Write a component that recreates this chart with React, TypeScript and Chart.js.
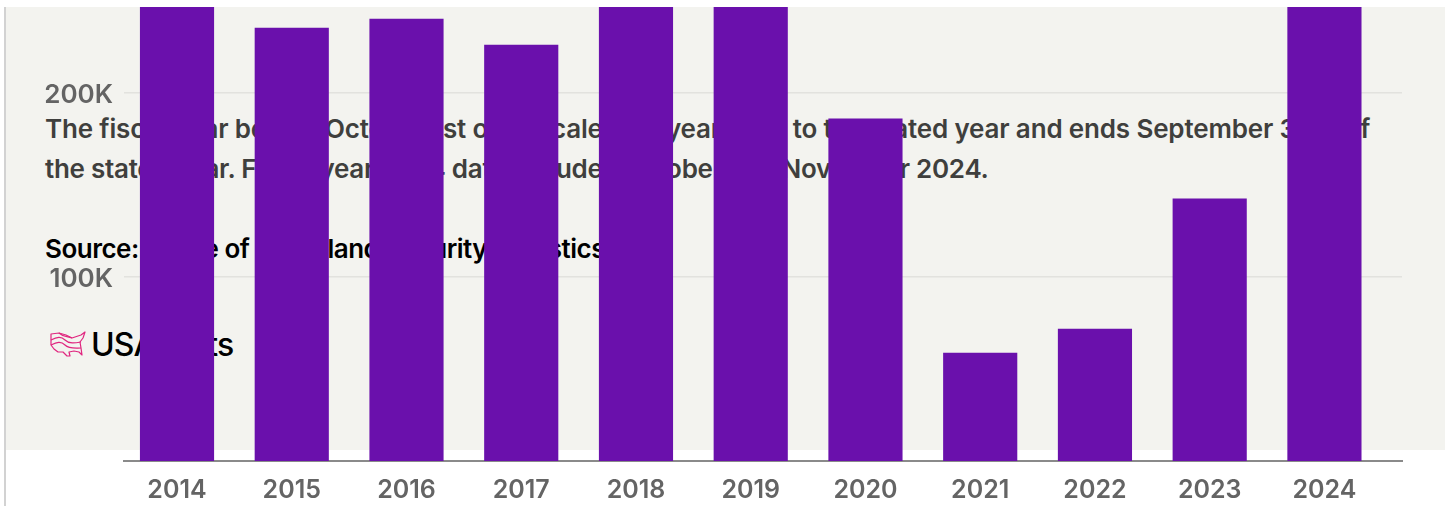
import React, { useEffect, useRef } from "react";
import { Chart, registerables } from "chart.js";

Chart.register(...registerables);

const years = [2014, 2015, 2016, 2017, 2018, 2019, 2020, 2021, 2022, 2023, 2024];
const removals = [315000, 235300, 240200, 226000, 256000, 267000, 186000, 58700, 71700, 142400, 271000];
const yTickValues = [100000, 200000];
const noteLines = [
  "The fiscal year begins October 1st of the calendar year prior to the stated year and ends September 30th of",
  "the stated year. Fiscal year 2024 data includes October and November 2024.",
];
const sourceText = "Source: Office of Homeland Security Statistics";
const brandText = "USAFacts";

const FONT = "Inter, 'Noto Sans', sans-serif";

export default function App() {
  const ref = useRef<HTMLCanvasElement | null>(null);

  useEffect(() => {
    if (!ref.current) return;
    const chart = new Chart(ref.current, {
      type: "bar",
      data: {
        datasets: [
          {
            data: years.map((y, i) => ({ x: y, y: removals[i] })),
            backgroundColor: "#6A10AC",
            barThickness: 73.5,
          },
        ],
      },
      options: {
        responsive: false,
        animation: false,
        layout: { padding: { top: 7, right: 43, bottom: 0, left: 0 } },
        plugins: { legend: { display: false }, tooltip: { enabled: false } },
        scales: {
          x: {
            type: "linear",
            offset: false,
            min: 2013.538,
            max: 2024.676,
            afterBuildTicks: (s: any) => {
              s.ticks = years.map((value) => ({ value }));
            },
            afterFit: (s: any) => {
              s.height = 45;
              s.paddingLeft = 0;
              s.paddingRight = 0;
            },
            grid: { display: false, drawTicks: false },
            border: { color: "#8A8A8A", width: 2 },
            ticks: {
              autoSkip: false,
              maxRotation: 0,
              padding: 14,
              color: "#646464",
              font: { family: FONT, size: 25, weight: 600 },
              callback: (v: any) => String(v),
            },
          },
          y: {
            min: 0,
            max: 246700,
            afterBuildTicks: (s: any) => {
              s.ticks = yTickValues.map((value) => ({ value }));
            },
            afterFit: (s: any) => {
              s.width = 124;
              s.paddingTop = 0;
              s.paddingBottom = 0;
            },
            grid: { color: "#E2E2DE", lineWidth: 1.5, drawTicks: false },
            border: { display: false },
            ticks: {
              padding: 11,
              labelOffset: 2,
              color: "#646464",
              font: { family: FONT, size: 26, weight: 600 },
              callback: (v: any) => `${Number(v) / 1000}K`,
            },
          },
        },
      },
    } as any);
    return () => chart.destroy();
  }, []);

  const textBase: React.CSSProperties = {
    position: "absolute",
    left: 45,
    whiteSpace: "nowrap",
    fontFamily: FONT,
    fontWeight: 600,
  };

  return (
    <div style={{ position: "absolute", left: 0, top: 0, width: 1445, height: 506, overflow: "hidden", background: "#fff" }}>
      <div style={{ position: "absolute", left: 4, top: 7, width: 2, height: 499, background: "#D2D2D2" }} />
      <div style={{ position: "absolute", left: 6, top: 7, width: 1439, height: 443, background: "#F3F3EF" }} />

      {noteLines.map((line, i) => (
        <div
          key={i}
          style={{
            ...textBase,
            top: 112 + i * 40,
            fontSize: 26,
            lineHeight: "34px",
            color: "#3F3F3D",
            letterSpacing: i === 0 ? -0.16 : -0.28,
          }}
        >
          {line}
        </div>
      ))}
      <div style={{ ...textBase, top: 232, fontSize: 26, lineHeight: "34px", color: "#000", letterSpacing: -0.5 }}>{sourceText}</div>

      {/* Outline map logo beside the wordmark */}
      <svg
        style={{ position: "absolute", left: 50, top: 331 }}
        width={36}
        height={27}
        viewBox="0 0 36 27"
        fill="none"
        stroke="#E0267F"
        strokeWidth={1.2}
        strokeLinejoin="round"
      >
        <path d="M1 3 L9 2 L16 4 L22 7 L28 5 L31 4 L35 1 L33 7 L30 11 L31 17 L32 24 L29 21 L24 20 L19 21 L20 25 L17 25 L13 21 L8 21 L4 18 L1 14 Z" />
        <path d="M1 9 C7 6 11 5 15 9 C19 13 25 12 31 11" />
        <path d="M1 14 C7 11 11 10 15 14 C19 18 25 17 31 17" />
        <path d="M9 2 C13 6 17 5 22 7" />
      </svg>
      <div style={{ ...textBase, left: 91, top: 325, fontWeight: 500, fontSize: 32, lineHeight: "40px", color: "#000", letterSpacing: -0.9 }}>{brandText}</div>

      <canvas ref={ref} width={1445} height={506} style={{ position: "absolute", left: 0, top: 0, width: 1445, height: 506 }} />
    </div>
  );
}
